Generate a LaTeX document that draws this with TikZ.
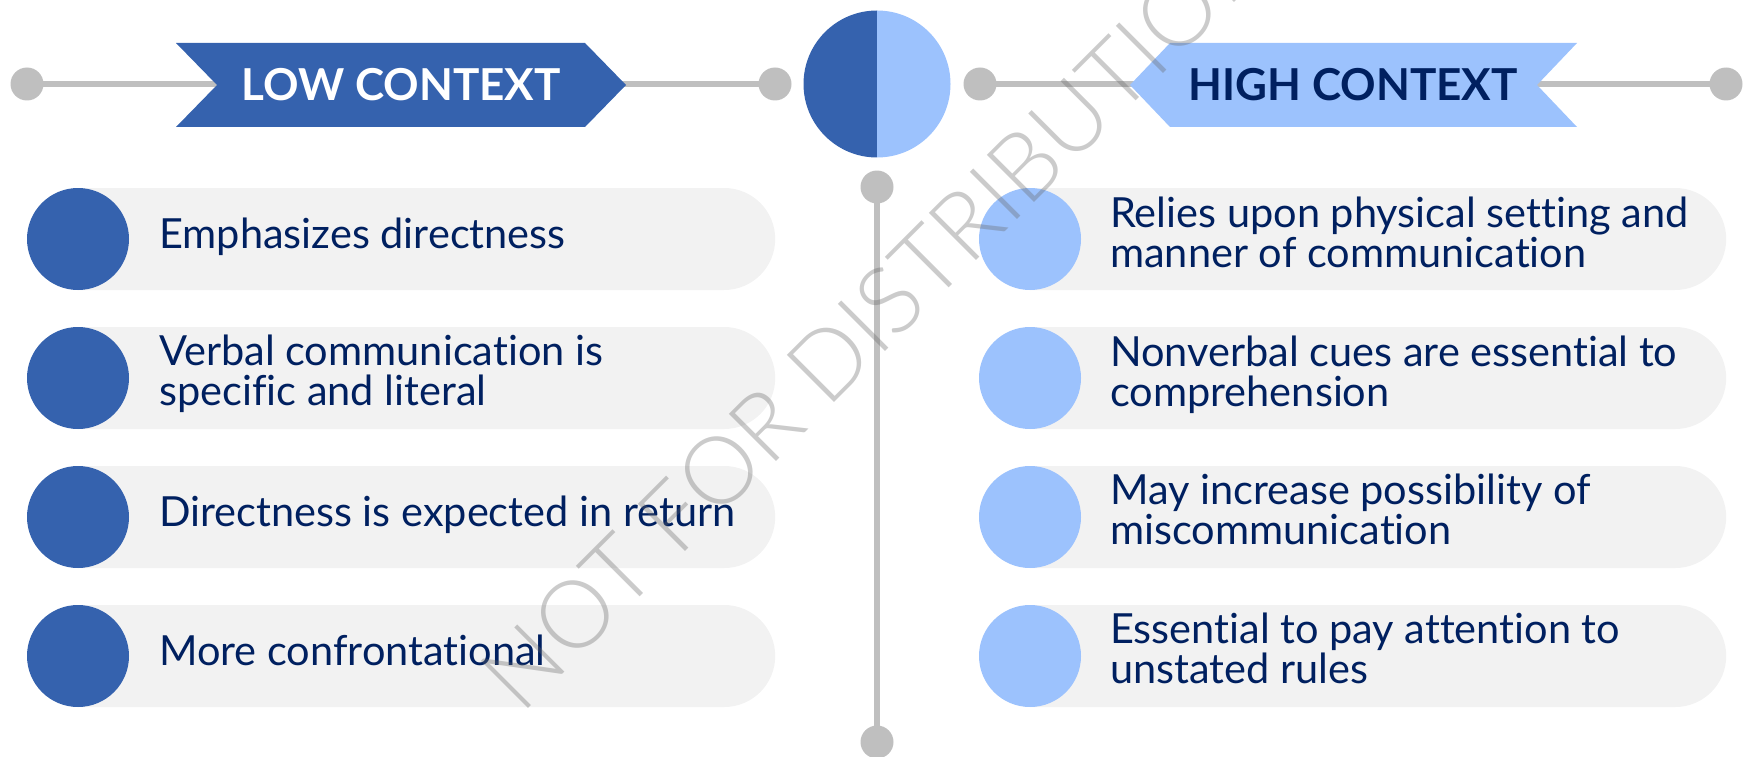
\documentclass[tikz,border=0pt]{standalone}
\usepackage{fontspec}
\setmainfont{Lato}[Ligatures=NoCommon]
\IfFontExistsTF{Lato Light}{\newfontfamily\wmfont{Lato Light}[Ligatures=NoCommon]}{\newfontfamily\wmfont{Lato}[Ligatures=NoCommon]}
\usetikzlibrary{shapes.misc}
\definecolor{dblue}{HTML}{3562AE}
\definecolor{lblue}{HTML}{9CC2FD}
\definecolor{navy}{HTML}{002060}
\definecolor{pillgray}{HTML}{F2F2F2}
\definecolor{linegray}{HTML}{BFBFBF}
\newcommand{\bodyfont}{\fontsize{41.5}{40}\selectfont}
\newcommand{\hdrfont}{\fontsize{44}{44}\selectfont\bfseries}
\newcommand{\twolines}[2]{\vtop{\hbox{#1}\hbox{#2}}}
\tikzset{
  dot/.style={circle, fill=linegray, inner sep=0, minimum size=33},
  hline/.style={draw=linegray, line width=6.5},
  lpill/.style={rounded rectangle, rounded rectangle left arc=none, fill=pillgray,
    inner sep=0, minimum height=102, minimum width=697, anchor=west},
  rpill/.style={lpill, minimum width=696},
  lbul/.style={circle, fill=dblue, inner sep=0, minimum size=102},
  rbul/.style={circle, fill=lblue, inner sep=0, minimum size=102},
  txt/.style={anchor=base west, inner sep=0, text=navy, font=\bodyfont},
  hdr/.style={anchor=base, inner sep=0, font=\hdrfont},
}
\begin{document}
\begin{tikzpicture}[x=1pt,y=-1pt]
\useasboundingbox (0,0) rectangle (1743,757);
% header lines
\node[dot] (hl1) at (27,84) {};
\node[dot] (hl2) at (775,84) {};
\node[dot] (hr1) at (980,84) {};
\node[dot] (hr2) at (1726,84) {};
\draw[hline] (hl1.center) -- (hl2.center);
\draw[hline] (hr1.center) -- (hr2.center);
% banners
\fill[dblue] (176,43) -- (585,43) -- (626,85) -- (585,127) -- (176,127) -- (217,85) -- cycle;
\node[hdr, text=white] (low) at (401,101) {LOW CONTEXT};
\fill[lblue] (1130,85) -- (1170,43) -- (1577,43) -- (1537,85) -- (1577,127) -- (1170,127) -- cycle;
\node[hdr, text=navy] (high) at (1353,101) {HIGH CONTEXT};
% central circle
\coordinate (mid) at (877,84);
\begin{scope}
  \clip (790,0) rectangle (877,170);
  \fill[dblue] (mid) circle (73.5);
\end{scope}
\begin{scope}
  \clip (877,0) rectangle (965,170);
  \fill[lblue] (mid) circle (73.5);
\end{scope}
% vertical line
\node[dot] (v1) at (877,187) {};
\node[dot] (v2) at (877,742) {};
\draw[hline] (v1.center) -- (v2.center);
% left rows
\node[lpill] (lp1) at (78,239) {};
\node[lpill] (lp2) at (78,378) {};
\node[lpill] (lp3) at (78,517) {};
\node[lpill] (lp4) at (78,656) {};
\node[lbul] (lc1) at (78,239) {};
\node[lbul] (lc2) at (78,378) {};
\node[lbul] (lc3) at (78,517) {};
\node[lbul] (lc4) at (78,656) {};
\node[txt] (lt1) at (159,248.5) {Emphasizes directness};
\node[txt] (lt2) at (159,365.5) {\twolines{Verbal communication is}{specific and literal}};
\node[txt] (lt3) at (159,526.5) {Directness is expected in return};
\node[txt] (lt4) at (159,665.5) {More confrontational};
% right rows
\node[rpill] (rp1) at (1030,239) {};
\node[rpill] (rp2) at (1030,378) {};
\node[rpill] (rp3) at (1030,517) {};
\node[rpill] (rp4) at (1030,656) {};
\node[rbul] (rc1) at (1030,239) {};
\node[rbul] (rc2) at (1030,378) {};
\node[rbul] (rc3) at (1030,517) {};
\node[rbul] (rc4) at (1030,656) {};
\node[txt] (rt1) at (1110,227) {\twolines{Relies upon physical setting and}{manner of communication}};
\node[txt] (rt2) at (1110,366) {\twolines{Nonverbal cues are essential to}{comprehension}};
\node[txt] (rt3) at (1110,504.5) {\twolines{May increase possibility of}{miscommunication}};
\node[txt] (rt4) at (1110,643.5) {\twolines{Essential to pay attention to}{unstated rules}};
% watermark
\node[rotate=45, inner sep=0, text=black!60, text opacity=0.34] (wm) at (876,314)
  {\resizebox{1068pt}{!}{\wmfont NOT FOR DISTRIBUTION}};
\end{tikzpicture}
\end{document}
